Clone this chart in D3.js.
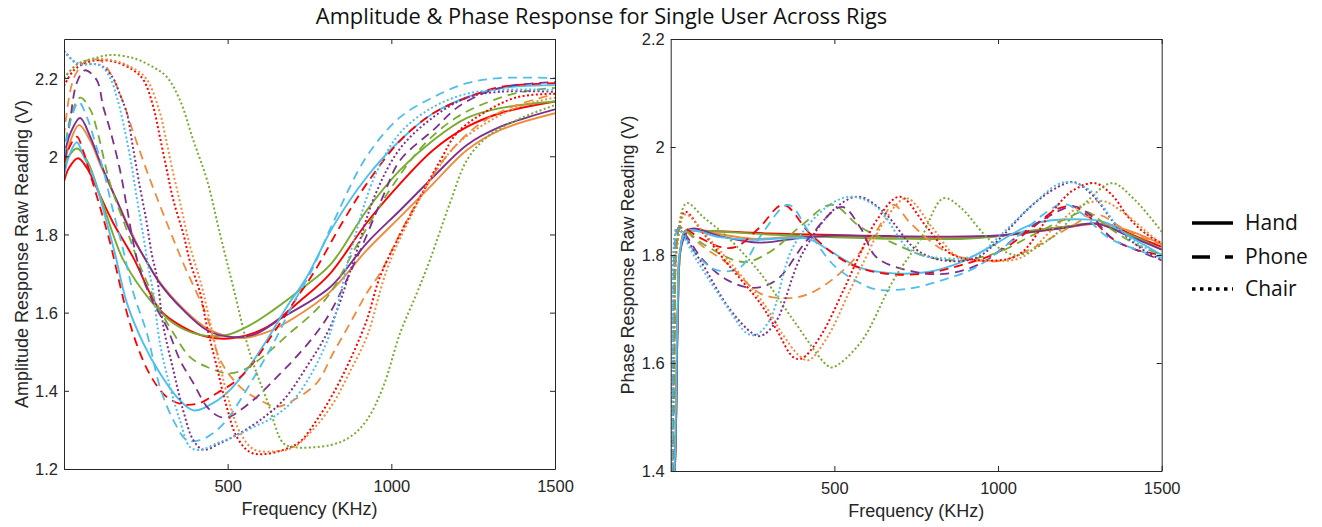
<!DOCTYPE html>
<html><head><meta charset="utf-8">
<script src="https://cdn.jsdelivr.net/npm/d3@7/dist/d3.min.js"></script>
<style>
body{margin:0;background:#fff}
.tick text{font-family:"Liberation Sans",Arial,Helvetica,sans-serif;font-size:16.5px;fill:#262626}
.lab{font-family:"Liberation Sans",Arial,Helvetica,sans-serif;font-size:18px;fill:#262626}
.ttl{font-family:"Open Sans","Noto Sans",sans-serif;font-size:21.8px;fill:#111}
.leg{font-family:"Open Sans","Noto Sans",sans-serif;font-size:21px;fill:#111}
</style></head><body>
<svg id="c" width="1322" height="527"></svg>
<script>
// ---------- data ----------
const rigs = ["Hand","Phone","Chair"];
const colorNames = ["red","orange","green","purple","cyan"];
const xTicks = [500,1000,1500];
const ampTicks = [1.2,1.4,1.6,1.8,2.0,2.2];
const phaseTicks = [1.4,1.6,1.8,2.0,2.2];

// Amplitude response [kHz, V]
const ampHandRed = [[0,1.935],[15,1.97],[43,1.995],[70,1.97],[110,1.9],[150,1.83],[212,1.74],[293,1.607],[364,1.563],[437,1.538],[517,1.535],[620,1.563],[721,1.63],[813,1.7],[925,1.83],[1027,1.93],[1128,2.016],[1231,2.075],[1332,2.11],[1500,2.14]];
const ampHandOrange = [[0,1.97],[20,2.04],[46,2.08],[80,2.04],[110,1.98],[165,1.88],[242,1.745],[300,1.67],[364,1.61],[437,1.56],[538,1.535],[620,1.55],[700,1.585],[813,1.653],[925,1.76],[1027,1.845],[1128,1.93],[1231,2.016],[1332,2.067],[1500,2.11]];
const ampHandGreen = [[0,1.96],[15,2.0],[40,2.02],[70,1.99],[110,1.9],[150,1.8],[181,1.735],[263,1.632],[334,1.573],[416,1.543],[497,1.543],[568,1.568],[640,1.607],[721,1.658],[813,1.722],[925,1.862],[1027,1.965],[1128,2.041],[1231,2.098],[1332,2.123],[1500,2.14]];
const ampHandPurple = [[0,2.0],[20,2.06],[49,2.098],[80,2.05],[110,1.986],[162,1.885],[212,1.79],[250,1.735],[293,1.675],[364,1.607],[437,1.555],[507,1.538],[578,1.543],[670,1.589],[813,1.665],[925,1.778],[1027,1.862],[1128,1.947],[1231,2.029],[1332,2.075],[1500,2.12]];
const ampHandCyan = [[0,1.947],[15,2.0],[39,2.036],[60,2.0],[90,1.947],[131,1.829],[156,1.75],[192,1.625],[242,1.522],[293,1.445],[345,1.384],[395,1.35],[446,1.364],[497,1.394],[558,1.453],[620,1.53],[680,1.614],[741,1.69],[822,1.82],[925,1.947],[1027,2.041],[1128,2.11],[1231,2.151],[1332,2.174],[1500,2.182]];

const ampPhoneRed = [[0,1.98],[15,2.02],[39,2.05],[60,2.01],[79,1.957],[110,1.87],[141,1.778],[192,1.6],[232,1.497],[272,1.428],[314,1.384],[364,1.365],[416,1.369],[467,1.394],[517,1.42],[568,1.461],[640,1.548],[701,1.625],[762,1.701],[850,1.83],[925,1.93],[1027,2.04],[1128,2.11],[1231,2.15],[1332,2.177],[1500,2.187]];
const ampPhoneOrange = [[0,2.05],[30,2.2],[70,2.245],[110,2.245],[140,2.215],[180,2.14],[212,2.06],[263,1.94],[314,1.83],[364,1.727],[437,1.589],[477,1.479],[538,1.41],[599,1.376],[650,1.359],[701,1.376],[772,1.42],[822,1.496],[874,1.573],[925,1.65],[965,1.7],[1050,1.84],[1150,1.98],[1250,2.07],[1350,2.12],[1500,2.16]];
const ampPhoneGreen = [[0,2.0],[20,2.1],[50,2.15],[80,2.12],[100,2.07],[141,1.93],[192,1.811],[232,1.72],[293,1.607],[334,1.548],[385,1.486],[437,1.461],[497,1.445],[547,1.453],[620,1.496],[690,1.548],[762,1.6],[813,1.65],[900,1.78],[1000,1.92],[1100,2.03],[1200,2.1],[1300,2.14],[1400,2.165],[1500,2.175]];
const ampPhonePurple = [[0,1.957],[20,2.1],[40,2.19],[64,2.22],[100,2.195],[120,2.126],[141,2.067],[171,1.965],[192,1.87],[212,1.778],[232,1.709],[270,1.63],[314,1.563],[354,1.479],[395,1.42],[437,1.359],[477,1.333],[510,1.335],[538,1.35],[589,1.384],[650,1.435],[701,1.479],[762,1.538],[813,1.6],[900,1.75],[976,1.9],[1027,1.99],[1128,2.067],[1210,2.13],[1332,2.175],[1500,2.19]];
const ampPhoneCyan = [[0,1.998],[20,2.09],[45,2.139],[70,2.1],[93,2.041],[120,1.965],[150,1.86],[181,1.76],[212,1.65],[253,1.548],[293,1.41],[334,1.325],[375,1.274],[416,1.274],[456,1.292],[497,1.325],[538,1.376],[599,1.461],[650,1.538],[701,1.625],[752,1.7],[822,1.83],[925,2.0],[1027,2.1],[1128,2.151],[1231,2.187],[1332,2.2],[1500,2.2]];

const ampChairRed = [[0,2.18],[30,2.22],[70,2.24],[110,2.246],[162,2.24],[212,2.22],[243,2.195],[273,2.126],[293,2.049],[314,1.965],[334,1.888],[365,1.8],[385,1.73],[416,1.65],[437,1.563],[467,1.461],[497,1.359],[528,1.282],[568,1.243],[609,1.238],[670,1.249],[721,1.27],[772,1.325],[823,1.394],[874,1.479],[925,1.581],[965,1.691],[1027,1.8],[1078,1.88],[1150,1.99],[1200,2.059],[1280,2.11],[1384,2.151],[1500,2.16]];
const ampChairOrange = [[0,2.2],[40,2.235],[90,2.248],[150,2.245],[200,2.23],[250,2.2],[290,2.12],[310,2.05],[330,1.97],[355,1.88],[385,1.77],[420,1.67],[445,1.58],[475,1.47],[505,1.37],[540,1.29],[580,1.25],[640,1.245],[700,1.255],[760,1.3],[823,1.369],[874,1.45],[925,1.538],[986,1.709],[1050,1.83],[1120,1.94],[1200,2.03],[1300,2.09],[1400,2.13],[1500,2.15]];
const ampChairGreen = [[0,2.2],[40,2.235],[90,2.25],[141,2.259],[212,2.251],[273,2.228],[314,2.203],[354,2.144],[395,2.041],[437,1.939],[477,1.8],[517,1.665],[568,1.496],[620,1.376],[670,1.266],[701,1.256],[813,1.261],[874,1.282],[925,1.325],[975,1.41],[1027,1.548],[1078,1.65],[1118,1.735],[1179,1.88],[1231,1.99],[1292,2.049],[1384,2.093],[1500,2.131]];
const ampChairPurple = [[0,2.27],[39,2.238],[110,2.233],[150,2.2],[170,2.16],[192,2.11],[212,2.016],[232,1.921],[253,1.829],[268,1.75],[284,1.691],[304,1.563],[334,1.453],[364,1.35],[395,1.274],[426,1.249],[477,1.266],[538,1.292],[599,1.325],[670,1.376],[741,1.461],[813,1.563],[880,1.72],[950,1.9],[1027,2.02],[1128,2.1],[1231,2.15],[1332,2.165],[1500,2.165]];
const ampChairCyan = [[0,2.27],[39,2.238],[110,2.233],[141,2.2],[162,2.15],[181,2.085],[202,1.998],[222,1.896],[243,1.793],[257,1.72],[273,1.65],[293,1.522],[324,1.41],[354,1.325],[385,1.256],[416,1.249],[467,1.266],[517,1.282],[578,1.307],[640,1.333],[701,1.376],[762,1.453],[813,1.548],[874,1.75],[950,1.95],[1027,2.06],[1128,2.126],[1231,2.16],[1332,2.17],[1500,2.17]];

// Phase response [kHz, V]
const phaseHandRed = [[2,1.2],[15,1.45],[22,1.7],[30,1.81],[45,1.845],[100,1.845],[300,1.84],[500,1.837],[700,1.832],[900,1.832],[1000,1.835],[1100,1.843],[1200,1.852],[1300,1.858],[1350,1.855],[1400,1.84],[1500,1.815]];
const phaseHandOrange = [[2,1.2],[15,1.45],[22,1.7],[30,1.81],[45,1.843],[100,1.843],[250,1.83],[400,1.835],[700,1.832],[1000,1.835],[1200,1.85],[1320,1.858],[1400,1.845],[1500,1.82]];
const phaseHandGreen = [[2,1.2],[15,1.45],[22,1.7],[30,1.81],[45,1.845],[100,1.845],[300,1.838],[500,1.833],[700,1.83],[900,1.83],[1000,1.835],[1100,1.845],[1200,1.852],[1300,1.858],[1400,1.838],[1500,1.81]];
const phaseHandPurple = [[2,1.2],[15,1.45],[22,1.7],[30,1.81],[60,1.848],[150,1.835],[270,1.823],[400,1.832],[500,1.836],[800,1.834],[1000,1.836],[1200,1.85],[1300,1.858],[1400,1.835],[1500,1.81]];
const phaseHandCyan = [[2,1.2],[14,1.45],[21,1.7],[29,1.81],[50,1.845],[150,1.833],[250,1.828],[420,1.83],[480,1.81],[580,1.776],[680,1.766],[780,1.768],[880,1.785],[976,1.815],[1110,1.858],[1260,1.866],[1330,1.86],[1400,1.835],[1500,1.8]];

const phasePhoneRed = [[3,1.2],[10,1.6],[18,1.82],[30,1.852],[80,1.835],[150,1.815],[200,1.815],[270,1.85],[344,1.893],[425,1.84],[527,1.79],[600,1.772],[680,1.764],[780,1.766],[880,1.78],[1000,1.805],[1100,1.848],[1180,1.885],[1230,1.89],[1280,1.87],[1350,1.83],[1420,1.81],[1500,1.8]];
const phasePhoneOrange = [[3,1.2],[10,1.6],[18,1.83],[28,1.85],[100,1.815],[172,1.785],[273,1.729],[355,1.72],[426,1.729],[528,1.772],[630,1.846],[680,1.893],[732,1.859],[833,1.809],[935,1.79],[1013,1.79],[1113,1.815],[1215,1.85],[1300,1.875],[1380,1.85],[1450,1.83],[1500,1.82]];
const phasePhoneGreen = [[3,1.2],[12,1.6],[20,1.83],[30,1.85],[100,1.82],[222,1.787],[304,1.806],[400,1.855],[492,1.893],[579,1.852],[680,1.822],[782,1.797],[884,1.79],[1000,1.805],[1100,1.835],[1200,1.865],[1270,1.88],[1340,1.85],[1420,1.82],[1500,1.8]];
const phasePhonePurple = [[3,1.2],[8,1.6],[15,1.83],[25,1.85],[100,1.79],[172,1.754],[253,1.739],[324,1.754],[420,1.83],[523,1.889],[580,1.85],[630,1.795],[753,1.768],[850,1.766],[950,1.785],[1050,1.83],[1150,1.87],[1230,1.89],[1280,1.875],[1350,1.83],[1420,1.81],[1500,1.79]];
const phasePhoneCyan = [[3,1.2],[8,1.6],[15,1.83],[25,1.85],[80,1.8],[141,1.772],[210,1.776],[280,1.84],[359,1.893],[425,1.84],[500,1.78],[579,1.748],[630,1.736],[730,1.738],[833,1.754],[935,1.778],[1050,1.83],[1150,1.88],[1200,1.895],[1260,1.875],[1330,1.835],[1400,1.815],[1500,1.795]];

const phaseChairRed = [[2,1.2],[10,1.6],[20,1.82],[44,1.88],[100,1.84],[172,1.785],[273,1.711],[324,1.661],[374,1.611],[400,1.608],[456,1.648],[528,1.735],[579,1.803],[630,1.865],[700,1.908],[782,1.852],[854,1.803],[950,1.79],[1062,1.8],[1165,1.88],[1230,1.92],[1297,1.933],[1350,1.91],[1398,1.87],[1450,1.84],[1500,1.822]];
const phaseChairOrange = [[2,1.2],[10,1.6],[20,1.82],[44,1.875],[110,1.835],[190,1.78],[290,1.705],[340,1.655],[390,1.615],[420,1.605],[476,1.645],[548,1.735],[600,1.8],[650,1.86],[720,1.905],[800,1.85],[870,1.8],[960,1.79],[1070,1.795],[1170,1.85],[1250,1.89],[1320,1.9],[1380,1.88],[1450,1.845],[1500,1.82]];
const phaseChairGreen = [[2,1.2],[10,1.6],[22,1.84],[49,1.896],[100,1.87],[172,1.834],[273,1.767],[374,1.68],[477,1.596],[495,1.592],[579,1.637],[680,1.753],[762,1.828],[833,1.905],[884,1.889],[955,1.84],[1010,1.81],[1062,1.8],[1165,1.833],[1266,1.896],[1348,1.933],[1418,1.902],[1500,1.843]];
const phaseChairPurple = [[2,1.2],[6,1.6],[12,1.83],[20,1.85],[90,1.79],[180,1.7],[250,1.655],[275,1.65],[320,1.675],[400,1.8],[500,1.885],[573,1.908],[650,1.88],[750,1.81],[833,1.79],[935,1.795],[1013,1.835],[1100,1.89],[1180,1.925],[1230,1.935],[1290,1.91],[1367,1.85],[1430,1.815],[1500,1.79]];
const phaseChairCyan = [[2,1.2],[6,1.6],[12,1.83],[20,1.85],[80,1.79],[172,1.704],[233,1.655],[260,1.652],[303,1.68],[374,1.815],[477,1.889],[548,1.908],[630,1.889],[732,1.809],[833,1.794],[935,1.8],[1013,1.84],[1100,1.89],[1180,1.93],[1220,1.935],[1280,1.92],[1367,1.852],[1430,1.82],[1500,1.8]];

// ---------- drawing ----------
const colorHex = {red:"#ff0000",orange:"#f28a3c",green:"#77ac30",purple:"#7e2f8e",cyan:"#4dbeee"};
const dashFor = {Hand:null, Phone:"9,6", Chair:"2,2.4"};
const widthFor = {Hand:1.9, Phone:1.8, Chair:2.0};

const ampSeries = [
  ["Hand","red",ampHandRed],["Hand","orange",ampHandOrange],["Hand","green",ampHandGreen],["Hand","purple",ampHandPurple],["Hand","cyan",ampHandCyan],
  ["Phone","red",ampPhoneRed],["Phone","orange",ampPhoneOrange],["Phone","green",ampPhoneGreen],["Phone","purple",ampPhonePurple],["Phone","cyan",ampPhoneCyan],
  ["Chair","red",ampChairRed],["Chair","orange",ampChairOrange],["Chair","green",ampChairGreen],["Chair","purple",ampChairPurple],["Chair","cyan",ampChairCyan]];
const phaseSeries = [
  ["Hand","red",phaseHandRed],["Hand","orange",phaseHandOrange],["Hand","green",phaseHandGreen],["Hand","purple",phaseHandPurple],["Hand","cyan",phaseHandCyan],
  ["Phone","red",phasePhoneRed],["Phone","orange",phasePhoneOrange],["Phone","green",phasePhoneGreen],["Phone","purple",phasePhonePurple],["Phone","cyan",phasePhoneCyan],
  ["Chair","red",phaseChairRed],["Chair","orange",phaseChairOrange],["Chair","green",phaseChairGreen],["Chair","purple",phaseChairPurple],["Chair","cyan",phaseChairCyan]];

const svg = d3.select("#c");
const axisColor = "#262626";

function panel(id, x0, x1, yTop, yBot, yDomain, yTicks, series, ylab, labX, xlabBase){
  const x = d3.scaleLinear().domain([0,1500]).range([x0,x1]);
  const y = d3.scaleLinear().domain(yDomain).range([yBot,yTop]);
  const defs = svg.append("defs");
  defs.append("clipPath").attr("id","clip"+id).append("rect")
    .attr("x",x0).attr("y",yTop).attr("width",x1-x0).attr("height",yBot-yTop);
  const g = svg.append("g").attr("clip-path","url(#clip"+id+")");
  const line = d3.line().x(d=>x(d[0])).y(d=>y(d[1])).curve(d3.curveCatmullRom.alpha(0.5));
  series.forEach(([rig,col,data])=>{
    g.append("path").attr("d",line(data)).attr("fill","none")
      .attr("stroke",colorHex[col]).attr("stroke-width",widthFor[rig])
      .attr("stroke-dasharray",dashFor[rig]).attr("stroke-linejoin","round");
  });
  const fmt = d=> String(+d.toFixed(1));
  const ax = (a)=>a.tickSizeOuter(0);
  const gb = svg.append("g").attr("transform",`translate(0,${yBot})`)
    .call(ax(d3.axisBottom(x).tickValues(xTicks).tickSizeInner(-5).tickPadding(11).tickFormat(d3.format("d"))));
  const gt = svg.append("g").attr("transform",`translate(0,${yTop})`)
    .call(ax(d3.axisTop(x).tickValues(xTicks).tickSizeInner(-5).tickFormat("")));
  const gl = svg.append("g").attr("transform",`translate(${x0},0)`)
    .call(ax(d3.axisLeft(y).tickValues(yTicks).tickSizeInner(-5).tickPadding(6).tickFormat(fmt)));
  const gr = svg.append("g").attr("transform",`translate(${x1},0)`)
    .call(ax(d3.axisRight(y).tickValues(yTicks).tickSizeInner(-5).tickFormat("")));
  [gb,gt,gl,gr].forEach(a=>{
    a.select(".domain").attr("stroke",axisColor).attr("stroke-width",1);
    a.selectAll(".tick line").attr("stroke",axisColor);
    a.attr("font-family",null).attr("font-size",null);
  });
  gl.selectAll(".tick text").attr("dy","0.36em");
  svg.append("text").attr("class","lab").attr("text-anchor","middle")
    .attr("transform",`translate(${labX},${(yTop+yBot)/2}) rotate(-90)`).text(ylab);
  svg.append("text").attr("class","lab").attr("text-anchor","middle")
    .attr("x",(x0+x1)/2).attr("y",xlabBase).text("Frequency (KHz)");
}

panel("A",64,555,39,469,[1.2,2.3],ampTicks,ampSeries,"Amplitude Response Raw Reading (V)",28,515);
panel("P",670.7,1161.7,39,471,[1.4,2.2],phaseTicks,phaseSeries,"Phase Response Raw Reading (V)",634,517);

svg.append("text").attr("class","ttl").attr("text-anchor","middle")
  .attr("x",601.5).attr("y",24).text("Amplitude & Phase Response for Single User Across Rigs");

// legend
const legY = [223,257,289];
const legDash = {Hand:null, Phone:"18,15", Chair:"3.5,4.5"};
rigs.forEach((r,i)=>{
  svg.append("line").attr("x1",1192).attr("x2",1233).attr("y1",legY[i]).attr("y2",legY[i])
    .attr("stroke","#000").attr("stroke-width",3.5).attr("stroke-dasharray",legDash[r]);
  svg.append("text").attr("class","leg").attr("x",1245).attr("y",legY[i]+7).text(r);
});
</script></body></html>
